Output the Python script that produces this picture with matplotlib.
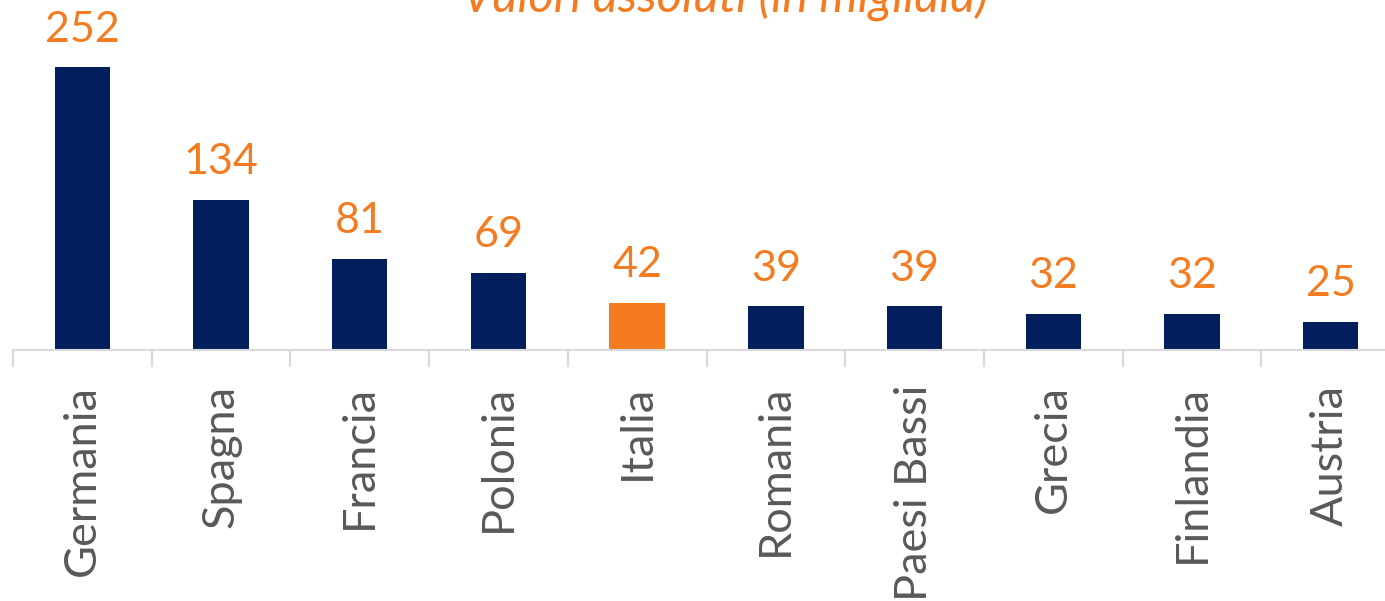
import matplotlib.pyplot as plt

paesi = ["Germania", "Spagna", "Francia", "Polonia", "Italia",
         "Romania", "Paesi Bassi", "Grecia", "Finlandia", "Austria"]
valori = [252, 134, 81, 69, 42, 39, 39, 32, 32, 25]

BLU = "#001F5C"
ARANCIO = "#F47B20"
GRIGIO = "#595959"

plt.rcParams['font.family'] = ['Lato', 'DejaVu Sans']

fig = plt.figure(figsize=(13.85, 6.01), dpi=100)
ax = fig.add_axes([13 / 1385, 251 / 601, 1387 / 1385, 314 / 601])

colori = [ARANCIO if p == "Italia" else BLU for p in paesi]
x = range(len(paesi))
ax.bar(x, valori, width=0.40, color=colori)

for i, v in zip(x, valori):
    ax.annotate(str(v), (i, v), xytext=(0, 13.5), textcoords="offset points",
                ha="center", va="bottom", color=ARANCIO, fontsize=31)

ax.set_xlim(-0.5, len(paesi) - 0.5)
ax.set_ylim(0, 280)
ax.set_yticks([])
for s in ["top", "right", "left"]:
    ax.spines[s].set_visible(False)
ax.spines["bottom"].set_color("#D9D9D9")
ax.spines["bottom"].set_linewidth(1.5)

# ticks between categories, labels centred under each bar
ax.set_xticks([i - 0.5 for i in range(len(paesi) + 1)])
ax.set_xticklabels([])
ax.tick_params(axis="x", which="major", length=12, width=1.5, color="#D9D9D9")
ax.set_xticks(list(x), minor=True)
ax.set_xticklabels(paesi, minor=True, rotation=90, fontsize=32.5, color=GRIGIO)
ax.tick_params(axis="x", which="minor", length=0, pad=25)

fig.text(0.5235, 1 - 13 / 601, "Valori assoluti (in migliaia)", ha="center",
         va="baseline", style="italic", color=ARANCIO, fontsize=35)

fig.savefig("out.png", dpi=100)
